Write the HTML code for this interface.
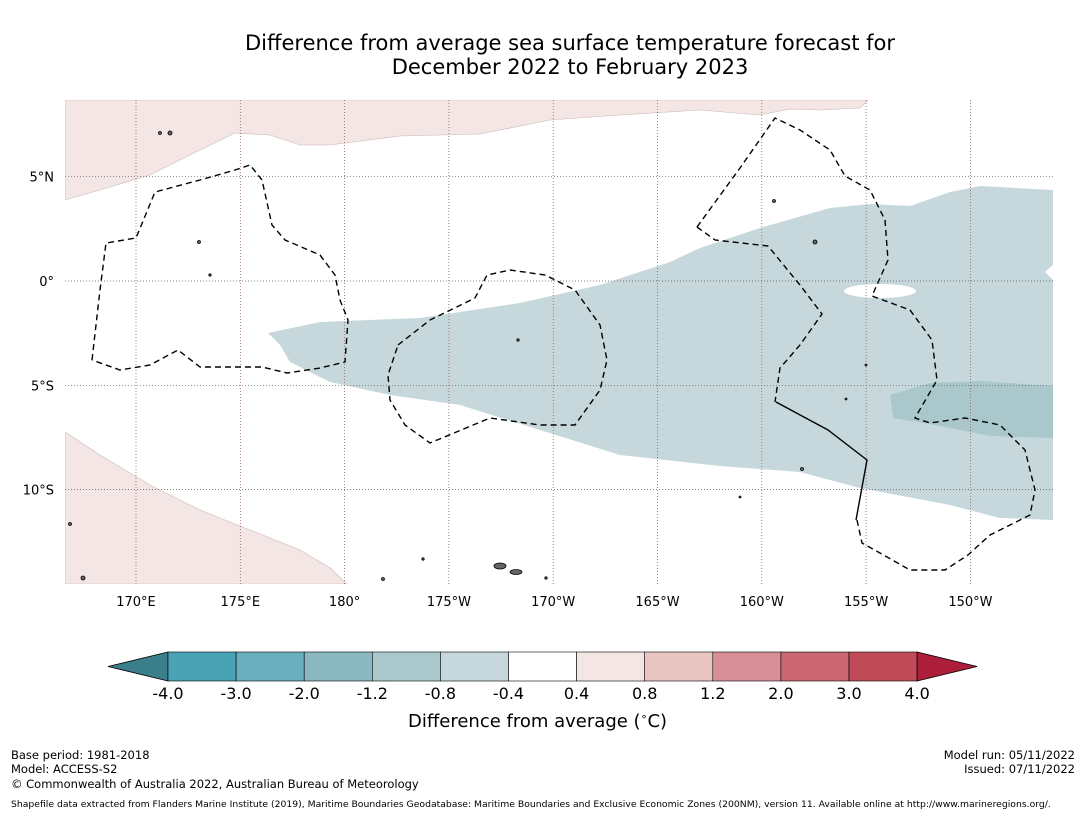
<!DOCTYPE html>
<html><head><meta charset="utf-8">
<style>
body{margin:0;background:#fff;font-family:"DejaVu Sans","Liberation Sans",sans-serif;}
#wrap{position:relative;width:1085px;height:816px;overflow:hidden;background:#fff;}
.t{position:absolute;white-space:nowrap;color:#000;}
</style></head>
<body>
<div id="wrap">
<div class="t" style="left:0;width:1140px;text-align:center;top:31px;font-size:21px;line-height:24px;">Difference from average sea surface temperature forecast for<br>December 2022 to February 2023</div>
<svg id="svg" width="1085" height="816" style="position:absolute;left:0;top:0">
<defs><clipPath id="mc"><rect x="65" y="100" width="988" height="484"/></clipPath></defs>
<g clip-path="url(#mc)">
<polygon fill="#c6d8dc" points="268,333 320,322 420,318 520,303 600,285 670,262 700,248 760,228 830,208 870,204 910,206 950,192 980,186 1053,190 1053,265 1045,272 1053,280 1053,520 1000,518 950,505 860,488 800,472 720,466 620,455 540,430 460,405 390,395 330,382 290,362 280,345"/>
<ellipse cx="880" cy="291" rx="36" ry="7" fill="#fff"/>
<polygon fill="#aac7cc" points="890,395 930,383 980,381 1053,386 1053,438 990,436 930,424 893,418"/>
<polygon fill="#f4e6e4" stroke="#c9b8b6" stroke-width="0.6" points="65,100 868,100 860,108 820,110 790,109 760,115 700,110 620,115 550,120 480,134 400,136 330,145 300,145 270,135 235,133 200,150 150,175 100,190 65,200"/>
<polygon fill="#f4e6e4" stroke="#c9b8b6" stroke-width="0.6" points="65,432 100,455 150,485 200,510 250,530 300,550 330,568 347,584 65,584"/>
<g id="grid"></g>
<g fill="none" stroke="#000" stroke-width="1.4" stroke-dasharray="6,4">
<polyline points="92,360 100,290 106,243 136,238 155,192 200,180 235,170 250,165 262,180 272,225 285,240 320,255 335,275 340,300 348,320 345,362 320,368 287,373 262,367 200,367 178,350 150,365 120,370 92,360"/>
<polyline points="398,345 430,320 475,298 487,275 510,270 545,275 575,290 600,325 607,360 600,390 575,425 540,425 490,418 430,443 405,425 390,400 388,375 398,345"/>
<polyline points="697,227 740,168 775,118 800,130 830,150 845,176 870,190 885,220 888,260 872,296 910,310 932,340 937,380 915,418 930,423 965,418 1000,425 1025,450 1035,490 1030,515 990,535 968,555 945,570 910,570 880,553 862,543 857,520"/>
<polyline points="697,227 715,240 768,246 800,285 822,314 800,345 780,368 775,402"/>
</g>
<polyline fill="none" stroke="#000" stroke-width="1.4" points="776,402 828,430 867,460 856,520"/>
<g fill="#666" stroke="#000" stroke-width="0.8">
<ellipse cx="500" cy="566" rx="6" ry="3"/><ellipse cx="516" cy="572" rx="6" ry="2.5"/>
<circle cx="170" cy="133" r="2"/><circle cx="160" cy="133" r="1.5"/><circle cx="70" cy="524" r="1.5"/><circle cx="83" cy="578" r="2"/>
<circle cx="199" cy="242" r="1.5"/><circle cx="210" cy="275" r="1.2"/><circle cx="815" cy="242" r="2"/><circle cx="774" cy="201" r="1.5"/>
<circle cx="802" cy="469" r="1.5"/><circle cx="518" cy="340" r="1.2"/><circle cx="383" cy="579" r="1.5"/><circle cx="423" cy="559" r="1.2"/>
<circle cx="740" cy="497" r="1"/><circle cx="866" cy="365" r="1"/><circle cx="846" cy="399" r="1"/><circle cx="546" cy="578" r="1.2"/>
</g>
</g>
<g id="ticks"></g>
<g id="cbar"></g>
</svg>
<div class="t" style="left:408px;top:710px;font-size:18px;">Difference from average (<sup style="font-size:11px">∘</sup>C)</div>
<div class="t" style="left:11px;top:748px;font-size:11.5px;line-height:14px;">Base period: 1981-2018<br>Model: ACCESS-S2</div>
<div class="t" style="left:11px;top:777px;font-size:11.5px;">© Commonwealth of Australia 2022, Australian Bureau of Meteorology</div>
<div class="t" style="right:10px;top:748px;font-size:11.5px;line-height:14px;text-align:right;">Model run: 05/11/2022<br>Issued: 07/11/2022</div>
<div class="t" style="left:11px;top:799px;font-size:9.25px;">Shapefile data extracted from Flanders Marine Institute (2019), Maritime Boundaries Geodatabase: Maritime Boundaries and Exclusive Economic Zones (200NM), version 11. Available online at http://www.marineregions.org/.</div>
</div>
<script>
const lonTicks=[170,175,180,185,190,195,200,205,210];
const lonLabels=["170°E","175°E","180°","175°W","170°W","165°W","160°W","155°W","150°W"];
const latTicks=[5,0,-5,-10];
const latLabels=["5°N","0°","5°S","10°S"];
const levels=["-4.0","-3.0","-2.0","-1.2","-0.8","-0.4","0.4","0.8","1.2","2.0","3.0","4.0"];
const colors=["#4aa3b4","#6aafbd","#8ab8c0","#aac7cc","#c6d8dc","#ffffff","#f4e6e4","#e8c5c1","#d78e96","#cb6673","#c04a58"];
const extLow="#3b7f8c", extHigh="#ad1e3a";
const NS="http://www.w3.org/2000/svg";
const xLon=l=>136+(l-170)*20.86;
const yLat=l=>281-l*20.86;
function mk(t,a,p){const e=document.createElementNS(NS,t);for(const k in a)e.setAttribute(k,a[k]);p.appendChild(e);return e;}
const grid=document.getElementById('grid'),ticks=document.getElementById('ticks'),cb=document.getElementById('cbar');
lonTicks.forEach((l,i)=>{
 const ln=mk('line',{x1:xLon(l),x2:xLon(l),y1:100,y2:584,stroke:'#8a4f55','stroke-width':0.7,'stroke-dasharray':'1,2'},grid);
 
 
 const t=mk('text',{x:xLon(l),y:606,'text-anchor':'middle','font-size':13,'font-family':'DejaVu Sans, sans-serif'},ticks);
 t.textContent=lonLabels[i];
 
 
});
latTicks.forEach((l,i)=>{
 const ln=mk('line',{x1:65,x2:1053,y1:yLat(l),y2:yLat(l),stroke:'#555','stroke-width':0.7,'stroke-dasharray':'1,2'},grid);
 
 
 const t=mk('text',{x:54,y:yLat(l)+5,'text-anchor':'end','font-size':13,'font-family':'DejaVu Sans, sans-serif'},ticks);
 t.textContent=latLabels[i];
 
 
});
const cx0=168,cw=68.1,cy=652,ch=29;
const lo=mk('polygon',{points:`${cx0},${cy} ${cx0},${cy+ch} 108,${cy+ch/2}`,fill:extLow,stroke:'#000','stroke-width':0.8},cb);


colors.forEach((c,i)=>{
 const r=mk('rect',{x:cx0+i*cw,y:cy,width:cw,height:ch,fill:c,stroke:'#000','stroke-width':0.6},cb);
 
 
});
const xe=cx0+colors.length*cw;
const hi=mk('polygon',{points:`${xe},${cy} ${xe},${cy+ch} ${xe+60},${cy+ch/2}`,fill:extHigh,stroke:'#000','stroke-width':0.8},cb);


levels.forEach((v,i)=>{
 const t=mk('text',{x:cx0+i*cw,y:699,'text-anchor':'middle','font-size':16,'font-family':'DejaVu Sans, sans-serif'},cb);
 t.textContent=v;
 
 
});
</script>
</body></html>
